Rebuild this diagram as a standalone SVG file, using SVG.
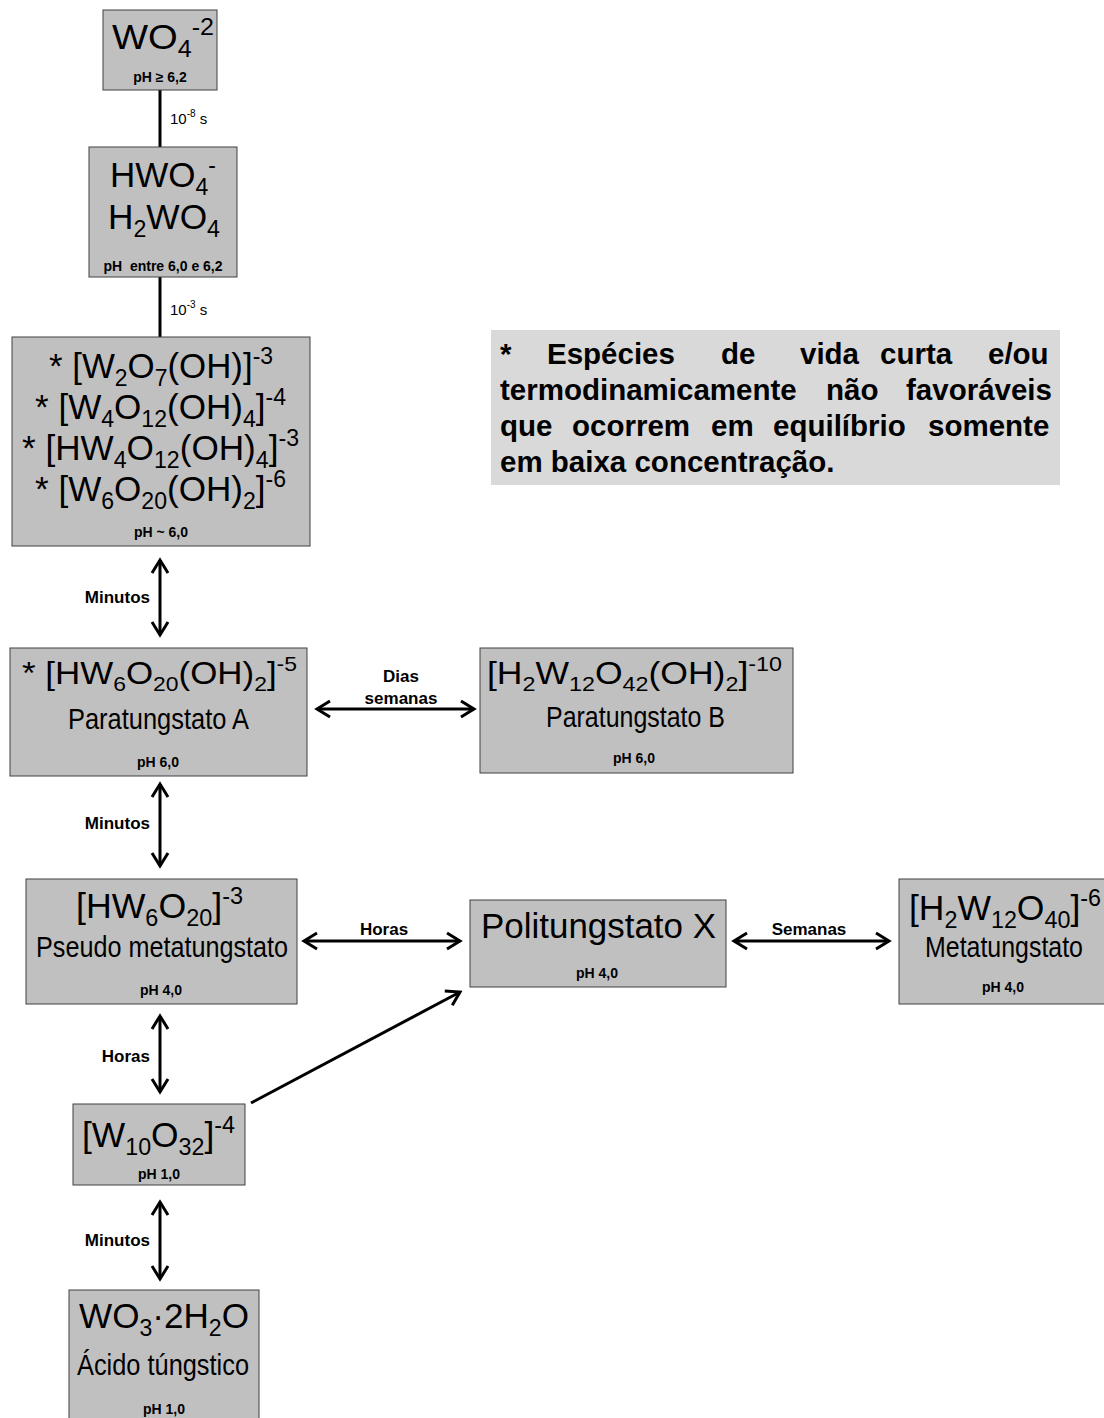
<svg xmlns="http://www.w3.org/2000/svg" width="1104" height="1418" viewBox="0 0 1104 1418">
<style>
.box{fill:#c0c0c0;stroke:#404040;stroke-width:1}
.note{fill:#d9d9d9}
text{font-family:"Liberation Sans",Arial,sans-serif;fill:#000}
.f{font-size:35px}
.f32{font-size:32px}
.nm{font-size:29px}
.s{font-size:23px}
.s20{font-size:21px}
.ph{font-weight:bold;font-size:14px;text-anchor:middle}
.lbl{font-weight:bold;font-size:17px}
.nt{font-weight:bold;font-size:29.5px}
.t{font-size:15px}
.conn line{stroke:#000;stroke-width:3;fill:none}
</style>
<defs>
<marker id="ah" markerUnits="userSpaceOnUse" viewBox="-16 -11 20 22" refX="0" refY="0" markerWidth="20" markerHeight="22" orient="auto-start-reverse" overflow="visible">
<path d="M-13,-8 L0,0 L-13,8" fill="none" stroke="#000" stroke-width="3"/>
</marker>
</defs>
<rect width="1104" height="1418" fill="#fff"/>

<g id="connectors" class="conn">
<line x1="160" y1="90" x2="160" y2="147"/>
<line x1="160" y1="277" x2="160" y2="337"/>
<line x1="160" y1="560" x2="160" y2="635" marker-start="url(#ah)" marker-end="url(#ah)"/>
<line x1="160" y1="784" x2="160" y2="866" marker-start="url(#ah)" marker-end="url(#ah)"/>
<line x1="160" y1="1016" x2="160" y2="1092" marker-start="url(#ah)" marker-end="url(#ah)"/>
<line x1="160" y1="1202" x2="160" y2="1279" marker-start="url(#ah)" marker-end="url(#ah)"/>
<line x1="317" y1="709" x2="474" y2="709" marker-start="url(#ah)" marker-end="url(#ah)"/>
<line x1="304" y1="941" x2="460" y2="941" marker-start="url(#ah)" marker-end="url(#ah)"/>
<line x1="734" y1="941" x2="889" y2="941" marker-start="url(#ah)" marker-end="url(#ah)"/>
<line x1="251" y1="1103" x2="460" y2="992" marker-end="url(#ah)"/>
</g>

<g id="connector-labels">
<text class="t" x="170" y="124">10<tspan font-size="10" dy="-7">-8</tspan><tspan dy="7"> s</tspan></text>
<text class="t" x="170" y="315">10<tspan font-size="10" dy="-7">-3</tspan><tspan dy="7"> s</tspan></text>
<text class="lbl" x="150" y="603" text-anchor="end">Minutos</text>
<text class="lbl" x="150" y="829" text-anchor="end">Minutos</text>
<text class="lbl" x="150" y="1062" text-anchor="end">Horas</text>
<text class="lbl" x="150" y="1246" text-anchor="end">Minutos</text>
<text class="lbl" x="401" y="682" text-anchor="middle">Dias</text>
<text class="lbl" x="401" y="704" text-anchor="middle">semanas</text>
<text class="lbl" x="384" y="935" text-anchor="middle">Horas</text>
<text class="lbl" x="809" y="935" text-anchor="middle">Semanas</text>
</g>

<g id="wo4">
<rect class="box" x="103" y="10" width="114" height="80"/>
<text class="f" x="112" y="49" textLength="102" lengthAdjust="spacingAndGlyphs">WO<tspan class="s" dy="8">4</tspan><tspan class="s" dy="-22">-2</tspan></text>
<text class="ph" x="160" y="82">pH ≥ 6,2</text>
</g>

<g id="hwo4">
<rect class="box" x="89" y="147" width="148" height="130"/>
<text class="f" x="110" y="187" textLength="106" lengthAdjust="spacingAndGlyphs">HWO<tspan class="s" dy="8">4</tspan><tspan class="s" dy="-22">-</tspan></text>
<text class="f" x="108" y="229" textLength="112" lengthAdjust="spacingAndGlyphs">H<tspan class="s" dy="8">2</tspan><tspan dy="-8">WO</tspan><tspan class="s" dy="8">4</tspan></text>
<text class="ph" x="163" y="271" xml:space="preserve">pH  entre 6,0 e 6,2</text>
</g>

<g id="oligomers">
<rect class="box" x="12" y="337" width="298" height="209"/>
<text class="f" x="49" y="378" textLength="224" lengthAdjust="spacingAndGlyphs">* [W<tspan class="s" dy="8">2</tspan><tspan dy="-8">O</tspan><tspan class="s" dy="8">7</tspan><tspan dy="-8">(OH)]</tspan><tspan class="s" dy="-14">-3</tspan></text>
<text class="f" x="35" y="419" textLength="251" lengthAdjust="spacingAndGlyphs">* [W<tspan class="s" dy="8">4</tspan><tspan dy="-8">O</tspan><tspan class="s" dy="8">12</tspan><tspan dy="-8">(OH)</tspan><tspan class="s" dy="8">4</tspan><tspan dy="-8">]</tspan><tspan class="s" dy="-14">-4</tspan></text>
<text class="f" x="22" y="460" textLength="277" lengthAdjust="spacingAndGlyphs">* [HW<tspan class="s" dy="8">4</tspan><tspan dy="-8">O</tspan><tspan class="s" dy="8">12</tspan><tspan dy="-8">(OH)</tspan><tspan class="s" dy="8">4</tspan><tspan dy="-8">]</tspan><tspan class="s" dy="-14">-3</tspan></text>
<text class="f" x="35" y="501" textLength="251" lengthAdjust="spacingAndGlyphs">* [W<tspan class="s" dy="8">6</tspan><tspan dy="-8">O</tspan><tspan class="s" dy="8">20</tspan><tspan dy="-8">(OH)</tspan><tspan class="s" dy="8">2</tspan><tspan dy="-8">]</tspan><tspan class="s" dy="-14">-6</tspan></text>
<text class="ph" x="161" y="537">pH ~ 6,0</text>
</g>

<g id="note">
<rect class="note" x="491" y="330" width="569" height="155"/>
<text class="nt" y="364"><tspan x="500">*</tspan><tspan x="547">Espécies</tspan><tspan x="721">de</tspan><tspan x="800">vida</tspan><tspan x="880">curta</tspan><tspan x="988">e/ou</tspan></text>
<text class="nt" y="400"><tspan x="500">termodinamicamente</tspan><tspan x="826">não</tspan><tspan x="906">favoráveis</tspan></text>
<text class="nt" y="436"><tspan x="500">que</tspan><tspan x="572">ocorrem</tspan><tspan x="711">em</tspan><tspan x="773">equilíbrio</tspan><tspan x="928">somente</tspan></text>
<text class="nt" x="500" y="472">em baixa concentração.</text>
</g>

<g id="paratungstato-a">
<rect class="box" x="10" y="648" width="297" height="128"/>
<text class="f32" x="22" y="684" textLength="275" lengthAdjust="spacingAndGlyphs">* [HW<tspan class="s20" dy="7">6</tspan><tspan dy="-7">O</tspan><tspan class="s20" dy="7">20</tspan><tspan dy="-7">(OH)</tspan><tspan class="s20" dy="7">2</tspan><tspan dy="-7">]</tspan><tspan class="s20" dy="-13">-5</tspan></text>
<text class="nm" x="68" y="729" textLength="181" lengthAdjust="spacingAndGlyphs">Paratungstato A</text>
<text class="ph" x="158" y="767">pH 6,0</text>
</g>

<g id="paratungstato-b">
<rect class="box" x="480" y="648" width="313" height="125"/>
<text class="f32" x="487" y="684" textLength="295" lengthAdjust="spacingAndGlyphs">[H<tspan class="s20" dy="7">2</tspan><tspan dy="-7">W</tspan><tspan class="s20" dy="7">12</tspan><tspan dy="-7">O</tspan><tspan class="s20" dy="7">42</tspan><tspan dy="-7">(OH)</tspan><tspan class="s20" dy="7">2</tspan><tspan dy="-7">]</tspan><tspan class="s20" dy="-13">-10</tspan></text>
<text class="nm" x="546" y="727" textLength="179" lengthAdjust="spacingAndGlyphs">Paratungstato B</text>
<text class="ph" x="634" y="763">pH 6,0</text>
</g>

<g id="pseudo-metatungstato">
<rect class="box" x="26" y="879" width="271" height="125"/>
<text class="f" x="76" y="918" textLength="167" lengthAdjust="spacingAndGlyphs">[HW<tspan class="s" dy="8">6</tspan><tspan dy="-8">O</tspan><tspan class="s" dy="8">20</tspan><tspan dy="-8">]</tspan><tspan class="s" dy="-14">-3</tspan></text>
<text class="nm" x="36" y="957" textLength="252" lengthAdjust="spacingAndGlyphs">Pseudo metatungstato</text>
<text class="ph" x="161" y="995">pH 4,0</text>
</g>

<g id="politungstato-x">
<rect class="box" x="470" y="900" width="256" height="87"/>
<text class="f" x="481" y="938" textLength="235" lengthAdjust="spacingAndGlyphs">Politungstato X</text>
<text class="ph" x="597" y="978">pH 4,0</text>
</g>

<g id="metatungstato">
<rect class="box" x="899" y="879" width="215" height="125"/>
<text class="f" x="909" y="920" textLength="192" lengthAdjust="spacingAndGlyphs">[H<tspan class="s" dy="8">2</tspan><tspan dy="-8">W</tspan><tspan class="s" dy="8">12</tspan><tspan dy="-8">O</tspan><tspan class="s" dy="8">40</tspan><tspan dy="-8">]</tspan><tspan class="s" dy="-14">-6</tspan></text>
<text class="nm" x="925" y="957" textLength="158" lengthAdjust="spacingAndGlyphs">Metatungstato</text>
<text class="ph" x="1003" y="992">pH 4,0</text>
</g>

<g id="decatungstato">
<rect class="box" x="73" y="1104" width="172" height="81"/>
<text class="f" x="82" y="1147" textLength="153" lengthAdjust="spacingAndGlyphs">[W<tspan class="s" dy="8">10</tspan><tspan dy="-8">O</tspan><tspan class="s" dy="8">32</tspan><tspan dy="-8">]</tspan><tspan class="s" dy="-14">-4</tspan></text>
<text class="ph" x="159" y="1179">pH 1,0</text>
</g>

<g id="acido-tungstico">
<rect class="box" x="69" y="1290" width="190" height="140"/>
<text class="f" x="79" y="1328" textLength="170" lengthAdjust="spacingAndGlyphs">WO<tspan class="s" dy="8">3</tspan><tspan dy="-8">·2H</tspan><tspan class="s" dy="8">2</tspan><tspan dy="-8">O</tspan></text>
<text class="nm" x="77" y="1375" textLength="172" lengthAdjust="spacingAndGlyphs">Ácido túngstico</text>
<text class="ph" x="164" y="1414">pH 1,0</text>
</g>
</svg>
